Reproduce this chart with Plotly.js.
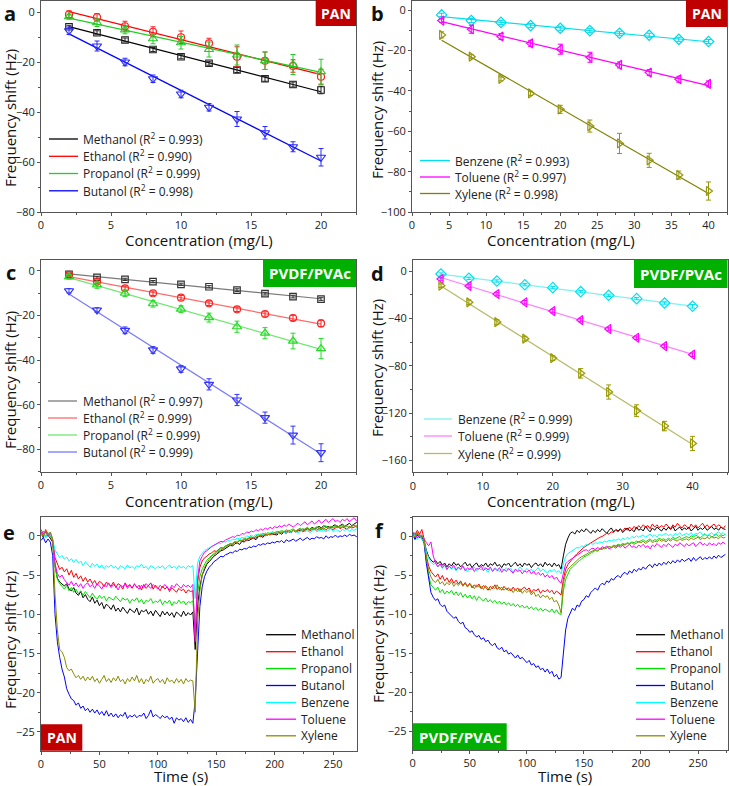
<!DOCTYPE html>
<html><head><meta charset="utf-8">
<script src="https://cdn.plot.ly/plotly-3.0.1.min.js"></script>
<style>html,body{margin:0;padding:0;background:#fff}#chart{width:729px;height:786px}</style>
</head><body><div id="chart"></div>
<script>
const FONT = '"Open Sans", "Noto Sans", sans-serif';

// ---------- concentration series (panels a-d) ----------
const concAlcohol = [2,4,6,8,10,12,14,16,18,20];
const concAromatic = [4,8,12,16,20,24,28,32,36,40];

const alcoholNames = ['Methanol','Ethanol','Propanol','Butanol'];
const aromaticNames = ['Benzene','Toluene','Xylene'];

// panel a (PAN, alcohols)
const a_methanol = [-5.9,-8.3,-11.2,-15.0,-17.9,-20.5,-23.2,-26.7,-29.0,-31.2];
const a_ethanol  = [-1.0,-2.1,-5.7,-7.9,-10.1,-12.5,-17.9,-19.5,-21.6,-25.9];
const a_propanol = [-1.9,-4.3,-7.2,-10.7,-12.3,-15.0,-17.2,-19.5,-21.0,-23.9];
const a_butanol  = [-7.5,-13.6,-20.0,-26.7,-32.8,-38.1,-42.8,-48.3,-53.9,-58.1];
const a_methanol_err = [0.6,0.8,0.8,0.8,0.8,0.8,1.0,1.0,1.0,1.5];
const a_ethanol_err  = [1.5,1.5,2.0,2.0,2.5,2.0,4.0,3.5,2.5,3.0];
const a_propanol_err = [1.0,1.5,1.5,2.0,2.5,3.0,4.0,3.5,4.0,5.0];
const a_butanol_err  = [1.5,2.0,1.5,1.5,1.5,1.5,3.0,2.5,2.0,3.5];
const a_r2 = ['0.993','0.990','0.999','0.998'];

// panel b (PAN, aromatics)
const b_benzene = [-2.3,-5.1,-6.0,-7.6,-8.9,-10.1,-11.4,-12.4,-14.4,-15.5];
const b_toluene = [-5.1,-9.4,-13.0,-16.4,-19.3,-23.3,-27.1,-30.9,-34.2,-36.5];
const b_xylene  = [-12.2,-23.0,-34.0,-41.2,-49.1,-57.4,-66.0,-74.4,-81.7,-89.6];
const b_benzene_err = [0.8,1.0,1.0,1.0,1.0,1.0,1.0,1.0,1.0,1.0];
const b_toluene_err = [1.0,2.0,1.5,1.5,2.5,2.5,1.5,1.5,1.5,1.5];
const b_xylene_err  = [1.5,1.0,1.0,1.0,2.0,3.0,5.0,3.5,2.0,4.5];
const b_r2 = ['0.993','0.997','0.998'];

// panel c (PVDF/PVAc, alcohols)
const c_methanol = [-1.6,-3.0,-3.9,-4.9,-6.1,-7.2,-8.7,-10.3,-11.6,-12.7];
const c_ethanol  = [-1.9,-4.9,-7.9,-10.1,-12.1,-14.6,-17.3,-19.4,-21.2,-23.6];
const c_propanol = [-2.8,-6.4,-10.1,-14.8,-17.2,-21.0,-25.1,-28.0,-31.5,-34.9];
const c_butanol  = [-9.0,-17.6,-26.7,-35.5,-44.0,-50.9,-57.9,-65.8,-73.6,-81.5];
const c_methanol_err = [0.5,0.5,0.5,0.5,0.5,0.5,0.6,0.6,0.6,0.6];
const c_ethanol_err  = [0.8,0.8,1.0,1.0,1.0,1.0,1.0,1.0,1.2,1.5];
const c_propanol_err = [1.0,1.5,1.5,1.5,1.5,2.0,2.5,2.5,3.5,4.5];
const c_butanol_err  = [1.0,1.0,1.5,1.5,1.5,2.5,2.5,2.5,4.0,4.0];
const c_r2 = ['0.997','0.999','0.999','0.999'];

// panel d (PVDF/PVAc, aromatics)
const d_benzene = [-2.3,-5.9,-8.2,-11.3,-13.8,-17.2,-20.3,-23.1,-26.8,-29.6];
const d_toluene = [-6.5,-12.4,-19.2,-26.2,-33.6,-41.2,-48.8,-56.2,-63.2,-70.5];
const d_xylene  = [-12.1,-26.2,-42.9,-57.0,-73.4,-86.3,-102.1,-117.9,-130.9,-145.6];
const d_benzene_err = [1.0,1.0,1.0,1.0,1.0,1.0,1.0,1.0,1.0,1.5];
const d_toluene_err = [1.5,1.5,1.5,1.5,1.5,1.5,1.5,1.5,1.5,1.5];
const d_xylene_err  = [1.5,2.0,2.0,2.0,2.0,4.0,6.0,5.0,4.0,6.0];
const d_r2 = ['0.999','0.999','0.999'];

// ---------- time series (panels e-f) ----------
const timeS = [0,2,4,6,8,10,12,14,16,18, 20,22,24,26,28,30,32,34,36,38, 40,42,44,46,48,50,52,54,56,58,
 60,62,64,66,68,70,72,74,76,78, 80,82,84,86,88,90,92,94,96,98, 100,102,104,106,108,110,112,114,116,118,
 120,122,124,126,128,130,132,134,136,138, 140,142,144,146,148,150,152,154,156,158, 160,162,164,166,168,170,172,174,176,178,
 180,182,184,186,188,190,192,194,196,198, 200,202,204,206,208,210,212,214,216,218, 220,222,224,226,228,230,232,234,236,238,
 240,242,244,246,248,250,252,254,256,258, 260,262,264,266,268,270,272,274];

const seriesNames = ['Methanol','Ethanol','Propanol','Butanol','Benzene','Toluene','Xylene'];

// panel e (PAN)
const e_methanol = [0.3,-0.2,0.6,0.1,-0.3,-0.8,-3.8,-5.4,-5.9,-6.2,
 -6.4,-6.1,-6.8,-7.0,-6.6,-7.3,-7.6,-7.1,-7.9,-7.5, -8.1,-8.4,-7.8,-8.6,-8.2,-8.9,-8.5,-9.3,-8.7,-9.0,
 -9.4,-8.8,-9.6,-9.2,-9.7,-9.1,-9.5,-9.9,-9.3,-9.6, -9.8,-9.2,-10.1,-9.5,-9.7,-9.4,-10.0,-9.6,-10.2,-9.5,
 -9.9,-10.3,-9.6,-10.1,-9.7,-10.2,-9.8,-10.4,-9.7,-10.0, -10.3,-9.6,-10.2,-9.8,-10.1,-9.7,-14.5,-9.0,-6.5,-5.0,
 -4.2,-3.6,-3.3,-2.9,-2.6,-2.4,-2.1,-1.9,-1.8,-1.6, -1.5,-1.2,-1.3,-1.0,-0.9,-1.1,-0.7,-0.8,-0.5,-0.6,
 -0.4,-0.3,-0.5,-0.1,0.0,-0.2,0.2,0.1,0.3,0.2, 0.2,0.1,0.4,0.2,0.5,0.3,0.6,0.4,0.7,0.5,
 0.8,0.6,0.9,0.7,1.0,0.8,1.1,0.9,1.0,1.2, 1.0,1.3,1.1,1.2,1.0,1.3,1.4,1.1,1.3,1.5, 1.2,1.4,1.6,1.3,1.5,1.7,1.4,1.6];
const e_ethanol = [0.5,0.0,0.8,0.2,-0.1,-0.6,-2.8,-3.6,-4.3,-4.0,
 -4.6,-4.2,-5.0,-4.4,-5.3,-4.8,-5.5,-5.1,-5.8,-5.3, -5.9,-5.5,-6.1,-5.7,-6.3,-5.8,-6.0,-6.5,-5.9,-6.2,
 -6.4,-5.9,-6.6,-6.1,-6.3,-6.8,-6.0,-6.5,-6.2,-6.7, -6.1,-6.6,-6.3,-6.9,-6.2,-6.7,-6.4,-6.0,-6.8,-6.3,
 -6.6,-7.0,-6.4,-6.8,-6.5,-7.1,-6.6,-6.9,-7.2,-6.7, -7.0,-6.8,-7.3,-6.9,-7.1,-7.0,-13.0,-6.0,-4.0,-3.2,
 -2.8,-2.6,-2.3,-2.2,-1.9,-2.0,-1.7,-1.5,-1.6,-1.3, -1.2,-1.0,-1.1,-0.8,-0.9,-0.6,-0.7,-0.5,-0.6,-0.3,
 -0.4,-0.2,-0.3,0.0,-0.1,0.1,0.0,0.2,0.1,0.3, 0.2,0.4,0.3,0.5,0.4,0.6,0.5,0.4,0.7,0.5,
 0.6,0.8,0.5,0.7,0.9,0.6,0.8,1.0,0.7,0.9, 0.8,1.0,0.7,1.1,0.9,0.8,1.0,1.2,0.9,1.1, 1.0,0.8,1.2,1.0,1.1,1.3,0.9,1.1];
const e_propanol = [0.2,0.6,-0.1,0.4,0.0,-0.7,-3.9,-5.5,-6.1,-6.4,
 -6.8,-6.3,-7.0,-6.6,-7.2,-6.8,-7.4,-7.0,-7.6,-7.1, -7.5,-7.9,-7.3,-7.8,-8.1,-7.6,-8.0,-7.7,-8.3,-7.8,
 -8.0,-8.2,-7.7,-8.1,-8.4,-7.9,-8.2,-8.0,-8.6,-8.1, -8.3,-7.9,-8.5,-8.1,-8.7,-8.2,-8.4,-8.0,-8.6,-8.3,
 -8.5,-8.1,-8.8,-8.3,-8.6,-8.2,-8.9,-8.4,-8.7,-8.2, -8.6,-8.3,-8.8,-8.4,-8.5,-8.3,-12.0,-7.5,-5.2,-4.2,
 -3.6,-3.1,-2.8,-2.5,-2.3,-2.0,-1.9,-1.6,-1.5,-1.3, -1.1,-1.2,-0.9,-0.7,-0.8,-0.5,-0.6,-0.3,-0.4,-0.2,
 -0.1,-0.3,0.0,0.2,0.1,0.3,0.2,0.4,0.3,0.5, 0.4,0.6,0.5,0.7,0.5,0.8,0.6,0.7,0.9,0.6,
 0.8,1.0,0.7,0.9,1.1,0.8,1.0,0.9,1.2,1.0, 0.9,1.1,1.3,1.0,1.2,1.1,1.3,1.0,1.2,1.4, 1.1,1.3,1.0,1.2,1.4,1.1,1.3,1.2];
const e_butanol = [-0.6,-0.2,-0.9,-0.4,-0.8,-2.5,-10.0,-13.5,-15.5,-17.0,
 -18.0,-19.5,-20.2,-20.8,-21.0,-21.6,-21.3,-22.0,-21.7,-22.3, -22.0,-22.5,-22.1,-22.6,-22.2,-22.8,-22.4,-22.9,-22.3,-23.0,
 -22.6,-23.1,-22.7,-23.2,-22.8,-23.0,-22.5,-23.3,-22.9,-23.1, -22.8,-23.2,-22.9,-23.0,-22.6,-23.3,-22.9,-22.2,-23.1,-22.8,
 -23.0,-23.3,-22.9,-23.2,-23.0,-23.4,-23.1,-23.9,-23.2,-23.5, -23.3,-23.7,-23.2,-23.8,-23.4,-23.9,-21.0,-14.0,-9.0,-6.5,
 -5.2,-4.5,-4.0,-3.7,-3.3,-3.1,-2.9,-2.6,-2.7,-2.4, -2.3,-2.1,-2.2,-1.9,-2.0,-1.7,-1.8,-1.6,-1.7,-1.4,
 -1.5,-1.3,-1.4,-1.1,-1.2,-1.0,-1.1,-0.9,-1.0,-0.8, -0.9,-0.7,-0.8,-0.6,-0.9,-0.5,-0.7,-0.6,-0.4,-0.7,
 -0.5,-0.3,-0.6,-0.4,-0.2,-0.5,-0.3,-0.4,-0.1,-0.3, -0.2,-0.4,0.0,-0.3,-0.1,-0.2,0.1,-0.2,0.0,-0.1, 0.1,-0.1,0.2,0.0,0.1,-0.1,0.2,0.1];
const e_benzene = [0.1,0.4,-0.3,0.2,-0.2,-0.5,-1.8,-2.4,-2.8,-2.5,
 -3.0,-2.7,-3.2,-2.9,-3.4,-3.0,-3.5,-3.2,-3.8,-3.3, -3.6,-4.0,-3.5,-3.9,-3.6,-4.1,-3.7,-4.2,-3.8,-4.0,
 -3.7,-4.1,-3.9,-4.3,-3.8,-4.0,-4.2,-3.7,-4.1,-3.9, -4.2,-3.8,-4.0,-3.6,-4.1,-3.9,-4.3,-3.8,-4.0,-4.2,
 -3.9,-4.1,-3.8,-4.2,-4.0,-3.7,-4.1,-3.9,-4.2,-3.8, -4.1,-3.9,-4.2,-3.8,-4.0,-3.8,-8.0,-3.5,-2.6,-2.2,
 -1.9,-1.7,-1.5,-1.4,-1.2,-1.1,-0.9,-1.0,-0.7,-0.8, -0.6,-0.7,-0.4,-0.5,-0.3,-0.4,-0.2,-0.3,0.0,-0.1,
 0.1,-0.1,0.2,0.0,0.3,0.1,0.4,0.2,0.3,0.5, 0.3,0.5,0.2,0.6,0.4,0.3,0.6,0.4,0.7,0.5,
 0.4,0.6,0.8,0.5,0.7,0.4,0.6,0.8,0.5,0.7, 0.6,0.8,0.5,0.7,0.9,0.6,0.8,0.7,0.5,0.8, 0.7,0.9,0.6,0.8,0.7,0.9,0.6,0.8];
const e_toluene = [0.8,0.2,0.6,-0.1,0.4,-0.5,-3.5,-4.8,-5.3,-5.0,
 -5.6,-5.9,-6.3,-5.8,-6.4,-6.0,-6.5,-6.1,-6.7,-6.2, -6.0,-6.5,-6.2,-6.7,-6.1,-6.4,-6.8,-6.2,-6.5,-6.0,
 -6.6,-6.2,-6.4,-6.9,-6.3,-6.5,-6.1,-6.7,-6.3,-6.6, -6.2,-6.5,-6.8,-6.3,-6.6,-6.1,-6.4,-6.7,-6.2,-6.5,
 -6.8,-6.3,-6.6,-6.2,-6.5,-6.9,-6.3,-6.6,-6.1,-6.4, -6.7,-6.2,-6.5,-6.3,-6.6,-6.2,-13.5,-5.5,-3.2,-2.6,
 -2.1,-1.9,-1.6,-1.4,-1.2,-1.0,-0.9,-0.7,-0.8,-0.5, -0.4,-0.3,-0.1,-0.2,0.1,0.0,0.3,0.2,0.5,0.4,
 0.6,0.5,0.8,0.6,0.9,0.7,1.0,0.8,1.1,0.9, 1.2,1.0,1.3,1.1,1.4,1.2,1.5,1.3,1.1,1.4,
 1.6,1.3,1.5,1.8,1.4,1.6,1.9,1.5,1.7,2.0, 1.6,1.8,2.1,1.7,1.9,2.2,1.8,2.0,1.7,2.1, 1.9,2.2,1.8,2.0,2.3,1.9,2.1,2.0];
const e_xylene = [0.4,-0.1,0.7,0.2,0.5,-0.4,-7.5,-12.0,-14.5,-14.8,
 -15.5,-16.8,-17.2,-17.0,-17.6,-18.1,-17.8,-18.3,-17.9,-18.5, -18.0,-18.4,-17.9,-18.6,-18.2,-18.8,-18.3,-17.8,-18.6,-18.2,
 -18.7,-18.1,-18.5,-17.9,-18.6,-18.3,-18.9,-18.2,-18.6,-18.0, -18.5,-17.8,-18.7,-18.2,-18.9,-18.3,-18.6,-17.9,-18.8,-18.4,
 -18.2,-18.7,-18.3,-18.9,-18.1,-18.6,-18.4,-18.8,-18.2,-18.7, -18.3,-18.9,-18.2,-18.6,-18.4,-18.5,-22.5,-11.0,-7.0,-5.0,
 -4.0,-3.4,-3.0,-2.6,-2.4,-2.1,-1.9,-1.7,-1.5,-1.4, -1.2,-1.0,-1.1,-0.8,-0.9,-0.6,-0.7,-0.4,-0.5,-0.3,
 -0.2,-0.3,0.0,-0.1,0.1,0.0,0.2,0.1,0.3,0.2, 0.4,0.3,0.5,0.4,0.6,0.5,0.7,0.5,0.8,0.6,
 0.7,0.9,0.6,0.8,1.0,0.7,0.9,0.8,1.1,0.9, 1.0,0.8,1.1,0.9,1.2,1.0,1.1,1.3,1.0,1.2, 1.1,1.3,1.0,1.2,1.4,1.1,1.3,1.2];

// panel f (PVDF/PVAc)
const f_methanol = [0.2,-0.3,0.4,0.0,-0.2,-0.6,-1.8,-2.6,-3.0,-3.3,
 -3.1,-3.5,-3.2,-3.7,-3.4,-3.9,-3.5,-3.8,-3.3,-3.7, -3.5,-3.9,-3.6,-3.3,-3.8,-3.5,-4.0,-3.6,-3.4,-3.9,
 -3.6,-3.8,-3.4,-3.9,-3.5,-3.7,-3.3,-3.8,-3.6,-4.0, -3.5,-3.7,-3.4,-3.9,-3.6,-3.3,-3.8,-3.5,-3.9,-3.4,
 -3.7,-3.5,-4.0,-3.6,-3.4,-3.8,-3.5,-3.9,-3.3,-3.7, -3.5,-3.9,-3.4,-3.8,-3.6,-4.2,-2.5,-1.0,-0.2,0.4,
 0.6,0.3,0.8,0.5,0.9,0.6,1.0,0.7,0.4,0.8, 0.5,0.9,0.6,1.0,0.7,0.4,0.8,1.1,0.6,0.9,
 0.7,1.0,0.5,0.8,1.1,0.7,0.9,0.6,1.2,0.8, 1.0,0.7,1.3,0.9,0.6,1.1,0.8,1.2,0.9,0.7,
 1.1,0.8,1.2,0.9,1.3,0.7,1.0,1.2,0.8,1.1, 0.9,1.2,0.7,1.0,1.3,0.8,1.1,0.9,1.2,0.8, 1.0,1.3,0.9,1.1,0.8,1.2,1.0,0.9];
const f_ethanol = [0.6,0.1,0.8,0.3,0.9,-0.3,-2.5,-3.8,-4.5,-4.9,
 -5.2,-4.8,-5.5,-5.0,-5.7,-5.3,-5.9,-5.4,-6.0,-5.6, -6.1,-5.7,-6.3,-5.9,-6.4,-6.0,-6.6,-6.2,-6.5,-6.1,
 -6.7,-6.3,-6.5,-6.9,-6.4,-6.7,-6.2,-6.8,-6.5,-6.9, -6.4,-6.8,-6.6,-7.0,-6.5,-6.9,-6.6,-7.1,-6.7,-6.5,
 -6.9,-6.6,-7.2,-6.8,-7.0,-6.7,-7.3,-6.9,-7.1,-6.8, -7.2,-6.9,-7.4,-7.0,-7.3,-7.5,-5.5,-4.2,-3.6,-3.2,
 -2.9,-2.5,-2.2,-1.9,-1.7,-1.4,-1.2,-1.0,-0.8,-0.6, -0.5,-0.3,-0.1,0.0,0.2,0.4,0.3,0.6,0.5,0.8,
 0.6,0.9,0.7,1.1,0.8,1.2,0.9,1.3,1.0,1.4, 1.1,1.5,1.2,1.4,1.0,1.6,1.2,1.5,1.1,1.4,
 1.2,1.6,1.3,1.0,1.5,1.2,1.7,1.3,1.1,1.5, 1.3,1.0,1.6,1.2,1.5,1.1,1.4,1.7,1.2,1.5, 1.1,1.4,1.6,1.2,1.5,1.3,1.0,1.4];
const f_propanol = [0.4,-0.2,0.5,0.1,-0.3,-0.8,-3.0,-5.0,-6.2,-6.6,
 -6.9,-6.5,-7.2,-6.8,-7.4,-7.0,-7.3,-6.9,-7.5,-7.1, -7.6,-7.2,-7.8,-7.4,-7.9,-7.5,-8.0,-7.6,-8.2,-7.7,
 -8.0,-8.3,-7.9,-8.4,-8.1,-8.5,-8.2,-8.6,-8.3,-8.7, -8.4,-8.8,-8.5,-8.9,-8.6,-9.0,-8.7,-9.1,-8.8,-9.2,
 -8.9,-9.3,-9.0,-9.4,-9.1,-9.5,-9.2,-9.6,-9.3,-9.5, -9.7,-9.3,-9.8,-9.4,-9.9,-10.0,-7.0,-5.5,-4.8,-4.2,
 -3.9,-3.6,-3.3,-3.1,-2.9,-2.6,-2.5,-2.3,-2.1,-2.0, -1.8,-1.9,-1.6,-1.7,-1.4,-1.5,-1.3,-1.4,-1.1,-1.2,
 -1.0,-1.1,-0.9,-1.0,-0.8,-0.9,-0.7,-0.8,-0.6,-0.7, -0.6,-0.4,-0.7,-0.5,-0.3,-0.6,-0.4,-0.5,-0.2,-0.4,
 -0.3,-0.5,-0.2,-0.4,-0.1,-0.3,-0.2,0.0,-0.3,-0.1, 0.0,-0.2,0.1,-0.1,0.2,0.0,-0.2,0.1,0.3,0.0, 0.2,-0.1,0.1,0.3,0.0,0.2,0.1,0.3];
const f_butanol = [0.3,-0.4,0.2,-0.2,0.1,-0.9,-3.5,-5.5,-7.2,-7.8,
 -8.2,-8.0,-8.7,-9.0,-8.8,-9.6,-9.9,-10.1,-10.5,-10.3, -10.9,-11.2,-11.0,-11.7,-11.9,-12.3,-12.1,-12.6,-12.9,-12.7,
 -13.2,-13.0,-13.5,-13.3,-13.8,-14.0,-13.7,-14.3,-14.5,-14.2, -14.8,-14.6,-15.1,-14.9,-15.3,-15.6,-15.2,-15.7,-15.5,-15.9,
 -16.2,-15.9,-16.5,-16.3,-16.8,-16.6,-17.1,-16.9,-17.4,-17.0, -17.6,-17.3,-18.0,-17.7,-18.3,-18.1,-15.0,-12.0,-10.5,-9.8,
 -9.2,-9.5,-8.8,-9.0,-8.3,-8.1,-7.6,-7.8,-7.2,-6.9, -6.6,-6.9,-6.3,-6.0,-6.2,-5.7,-5.9,-5.4,-5.6,-5.2,
 -5.0,-5.3,-4.8,-4.6,-4.9,-4.4,-4.7,-4.2,-4.5,-4.1, -4.3,-3.9,-4.2,-3.8,-3.6,-4.0,-3.5,-3.8,-3.4,-3.7,
 -3.3,-3.6,-3.2,-3.5,-3.1,-3.4,-3.0,-3.3,-2.9,-3.2, -3.0,-2.8,-3.2,-2.7,-3.1,-2.9,-2.6,-3.0,-2.7,-2.9, -2.6,-2.9,-2.5,-2.8,-2.4,-2.7,-2.5,-2.3];
const f_benzene = [-0.2,0.3,-0.4,0.1,-0.3,-0.7,-2.0,-2.8,-3.3,-3.6,
 -3.4,-3.9,-3.6,-4.1,-3.7,-4.3,-3.8,-4.2,-3.9,-4.4, -4.0,-4.3,-3.8,-4.2,-4.5,-4.0,-4.3,-3.9,-4.4,-4.1,
 -4.3,-3.9,-4.2,-4.6,-4.1,-4.4,-4.0,-4.3,-4.5,-4.1, -4.4,-4.0,-4.3,-4.1,-4.6,-4.2,-4.4,-3.9,-4.3,-4.5,
 -4.1,-4.4,-4.2,-4.6,-4.3,-4.0,-4.5,-4.2,-4.4,-4.7, -4.3,-4.5,-4.2,-4.6,-4.4,-4.8,-3.5,-2.6,-2.2,-2.0,
 -1.8,-1.6,-1.4,-1.5,-1.2,-1.3,-1.0,-1.1,-0.9,-1.0, -0.8,-0.9,-0.7,-0.8,-0.6,-0.7,-0.5,-0.6,-0.4,-0.5,
 -0.3,-0.5,-0.2,-0.4,-0.1,-0.3,0.0,-0.2,0.1,-0.1, 0.0,0.2,-0.1,0.1,0.3,0.0,0.2,-0.1,0.3,0.1,
 0.2,0.4,0.1,0.3,0.0,0.4,0.2,0.5,0.1,0.3, 0.4,0.2,0.5,0.1,0.4,0.3,0.6,0.2,0.4,0.1, 0.3,0.5,0.2,0.4,0.6,0.3,0.5,0.2];
const f_toluene = [0.1,0.5,-0.2,0.3,0.0,-0.3,-0.8,-1.2,-0.7,-2.5,
 -3.4,-3.9,-3.5,-4.0,-3.6,-4.2,-3.8,-4.1,-3.7,-4.3, -3.9,-4.2,-3.8,-4.4,-4.0,-4.3,-3.9,-4.5,-4.1,-4.2,
 -3.8,-4.4,-4.0,-4.3,-3.9,-4.5,-4.1,-4.4,-4.0,-4.6, -4.2,-4.5,-4.1,-4.4,-4.7,-4.2,-4.5,-4.3,-4.8,-4.4,
 -4.6,-4.3,-4.8,-4.5,-4.9,-4.6,-5.0,-4.7,-5.2,-4.9, -5.3,-5.0,-5.5,-5.2,-5.7,-6.0,-4.5,-3.5,-3.2,-3.0,
 -2.8,-2.6,-2.3,-2.1,-2.0,-1.8,-1.7,-1.9,-1.6,-1.5, -1.7,-1.4,-1.6,-1.3,-1.5,-1.2,-1.6,-1.4,-1.3,-1.5,
 -1.2,-1.4,-1.1,-1.5,-1.3,-1.0,-1.4,-1.2,-1.5,-1.1, -1.3,-1.0,-1.4,-1.2,-1.6,-1.1,-1.3,-0.9,-1.2,-1.4,
 -1.0,-1.3,-0.9,-1.2,-1.4,-1.0,-1.2,-0.8,-1.1,-1.3, -0.9,-1.2,-1.0,-0.8,-1.3,-1.0,-0.7,-1.1,-0.9,-1.2, -0.8,-1.1,-0.9,-1.2,-0.8,-1.0,-0.7,-1.0];
const f_xylene = [0.3,-0.1,0.5,0.0,0.2,-0.5,-2.8,-4.3,-5.2,-5.7,
 -5.9,-5.5,-6.1,-5.8,-6.3,-5.9,-6.2,-5.8,-6.4,-6.0, -6.3,-5.9,-6.4,-6.0,-6.5,-6.1,-6.3,-6.7,-6.2,-6.5,
 -6.4,-6.8,-6.3,-6.6,-6.9,-6.4,-6.7,-6.2,-6.8,-6.5, -6.9,-6.6,-7.0,-6.7,-7.2,-6.8,-7.1,-6.7,-7.3,-6.9,
 -7.2,-6.9,-7.5,-7.1,-7.7,-7.4,-7.9,-7.5,-7.8,-7.6, -8.1,-7.8,-8.4,-8.2,-8.8,-9.8,-6.0,-4.8,-4.2,-3.9,
 -3.6,-3.3,-3.0,-2.8,-2.6,-2.5,-2.3,-2.1,-2.0,-1.9, -1.7,-1.8,-1.6,-1.5,-1.6,-1.4,-1.3,-1.4,-1.2,-1.3,
 -1.1,-1.2,-1.0,-1.1,-0.9,-1.0,-0.8,-1.0,-0.9,-0.7, -0.8,-0.6,-0.9,-0.7,-0.5,-0.8,-0.6,-0.7,-0.4,-0.6,
 -0.5,-0.7,-0.4,-0.6,-0.3,-0.5,-0.6,-0.3,-0.5,-0.4, -0.3,-0.5,-0.2,-0.4,-0.3,-0.1,-0.4,-0.2,-0.3,-0.1, -0.3,0.0,-0.2,-0.1,-0.3,0.0,-0.2,-0.1];

// ---------- layout helpers ----------
const W = 729, H = 786;
const px = v => v / W;
const py = v => 1 - v / H;
const AX = '#555';

function xAxis(x0, x1, anchor, range, dtick, minor) {
  return {domain:[px(x0), px(x1)], anchor, range, dtick, tick0:0,
    showline:true, mirror:true, linecolor:AX, linewidth:1,
    ticks:'outside', ticklen:3, tickwidth:1, tickcolor:AX,
    minor:{ticks:'outside', ticklen:2, dtick:minor, tickcolor:AX, showgrid:false},
    showgrid:false, zeroline:false, fixedrange:true,
    tickfont:{family:FONT, size:11, color:'#222'}};
}
function yAxis(y0, y1, anchor, range, dtick, minor) {
  return {domain:[py(y1), py(y0)], anchor, range, dtick, tick0:0,
    showline:true, mirror:true, linecolor:AX, linewidth:1,
    ticks:'outside', ticklen:3, tickwidth:1, tickcolor:AX,
    minor:{ticks:'outside', ticklen:2, dtick:minor, tickcolor:AX, showgrid:false},
    showgrid:false, zeroline:false, fixedrange:true,
    tickfont:{family:FONT, size:11, color:'#222'}};
}

function fitLine(x, y) {
  const n = x.length; let sx=0, sy=0, sxx=0, sxy=0;
  for (let i=0;i<n;i++){ sx+=x[i]; sy+=y[i]; sxx+=x[i]*x[i]; sxy+=x[i]*y[i]; }
  const m = (n*sxy - sx*sy)/(n*sxx - sx*sx); const b = (sy - m*sx)/n;
  return {x:[x[0], x[n-1]], y:[m*x[0]+b, m*x[n-1]+b]};
}

const traces = [];
const shapes = [];
const annotations = [];

function addLegend(items, lx0, lx1, tx, rows) {
  items.forEach((it, i) => {
    shapes.push({type:'line', xref:'paper', yref:'paper', x0:px(lx0), x1:px(lx1), y0:py(rows[i]), y1:py(rows[i]),
      line:{color:it.color, width:1.3}});
    annotations.push({xref:'paper', yref:'paper', x:px(tx), y:py(rows[i]), xanchor:'left', yanchor:'middle',
      text:it.text, showarrow:false, borderpad:0, font:{family:FONT, size:12, color:'#222'}});
  });
}

function scatterPanel(xa, ya, x, series) {
  series.forEach(s => {
    const f = fitLine(x, s.y);
    traces.push({type:'scatter', mode:'lines', x:f.x, y:f.y, xaxis:xa, yaxis:ya,
      line:{color:s.line, width:1.2}, showlegend:false, hoverinfo:'skip'});
  });
  series.forEach(s => {
    traces.push({type:'scatter', mode:'markers', x:x, y:s.y, xaxis:xa, yaxis:ya, name:s.name,
      marker:{symbol:s.symbol, size:s.size||7, color:s.marker, line:{color:s.marker, width:1.2}},
      error_y:{type:'data', array:s.err, visible:true, color:s.marker, thickness:1, width:2.5},
      showlegend:false, cliponaxis:false});
  });
}

// panel a
const seriesA = [
  {name:alcoholNames[0], y:a_methanol, err:a_methanol_err, r2:a_r2[0], line:'#000000', marker:'#222222', symbol:'square-open', size:6.5},
  {name:alcoholNames[1], y:a_ethanol, err:a_ethanol_err, r2:a_r2[1], line:'#ff0000', marker:'#ff2020', symbol:'circle-open'},
  {name:alcoholNames[2], y:a_propanol, err:a_propanol_err, r2:a_r2[2], line:'#22cc22', marker:'#22cc22', symbol:'triangle-up-open', size:8},
  {name:alcoholNames[3], y:a_butanol, err:a_butanol_err, r2:a_r2[3], line:'#0000ff', marker:'#2a2aff', symbol:'triangle-down-open', size:8}];
scatterPanel('x','y', concAlcohol, seriesA);
// panel b
const seriesB = [
  {name:aromaticNames[0], y:b_benzene, err:b_benzene_err, r2:b_r2[0], line:'#00e0f0', marker:'#00d8e8', symbol:'diamond-open', size:8},
  {name:aromaticNames[1], y:b_toluene, err:b_toluene_err, r2:b_r2[1], line:'#ff00ff', marker:'#ff00ff', symbol:'triangle-left-open', size:8},
  {name:aromaticNames[2], y:b_xylene, err:b_xylene_err, r2:b_r2[2], line:'#808000', marker:'#959510', symbol:'triangle-right-open', size:8}];
scatterPanel('x2','y2', concAromatic, seriesB);
// panel c
const seriesC = [
  {name:alcoholNames[0], y:c_methanol, err:c_methanol_err, r2:c_r2[0], line:'#7a7a7a', marker:'#333333', symbol:'square-open', size:6.5},
  {name:alcoholNames[1], y:c_ethanol, err:c_ethanol_err, r2:c_r2[1], line:'#ff6a6a', marker:'#ff2020', symbol:'circle-open'},
  {name:alcoholNames[2], y:c_propanol, err:c_propanol_err, r2:c_r2[2], line:'#70e870', marker:'#22dd22', symbol:'triangle-up-open', size:8},
  {name:alcoholNames[3], y:c_butanol, err:c_butanol_err, r2:c_r2[3], line:'#7878ff', marker:'#3333ff', symbol:'triangle-down-open', size:8}];
scatterPanel('x3','y3', concAlcohol, seriesC);
// panel d
const seriesD = [
  {name:aromaticNames[0], y:d_benzene, err:d_benzene_err, r2:d_r2[0], line:'#80f0f0', marker:'#00e0f0', symbol:'diamond-open', size:8},
  {name:aromaticNames[1], y:d_toluene, err:d_toluene_err, r2:d_r2[1], line:'#ff80ff', marker:'#ff00ff', symbol:'triangle-left-open', size:8},
  {name:aromaticNames[2], y:d_xylene, err:d_xylene_err, r2:d_r2[2], line:'#b8b868', marker:'#999900', symbol:'triangle-right-open', size:8}];
scatterPanel('x4','y4', concAromatic, seriesD);

const leg = arr => arr.map(s => ({color:s.line, text:s.name + ' (R<sup>2</sup> = ' + s.r2 + ')'}));
addLegend(leg(seriesA), 49, 78, 82, [139, 156.3, 173.5, 190.8]);
addLegend(leg(seriesB), 420, 450, 454, [160.5, 177, 193.5]);
addLegend(leg(seriesC), 48, 77, 81.5, [401, 418, 435, 452]);
addLegend(leg(seriesD), 424, 452, 456.5, [419, 436, 453.5]);

// time panels
const timeColors = ['#000000','#ff0000','#00e000','#0000ff','#00ffff','#ff00ff','#8b8b00'];
const eSeries = [e_methanol, e_ethanol, e_propanol, e_butanol, e_benzene, e_toluene, e_xylene];
const fSeries = [f_methanol, f_ethanol, f_propanol, f_butanol, f_benzene, f_toluene, f_xylene];
eSeries.forEach((y,i) => traces.push({type:'scatter', mode:'lines', x:timeS, y, xaxis:'x5', yaxis:'y5', name:seriesNames[i],
  line:{color:timeColors[i], width:1}, showlegend:false}));
fSeries.forEach((y,i) => traces.push({type:'scatter', mode:'lines', x:timeS, y, xaxis:'x6', yaxis:'y6', name:seriesNames[i],
  line:{color:timeColors[i], width:1}, showlegend:false}));
const tRows = [634.7, 651.7, 668.5, 685.5, 702.5, 719.2, 735.8];
addLegend(seriesNames.map((n,i)=>({color:timeColors[i], text:n})), 266, 296, 300, tRows);
addLegend(seriesNames.map((n,i)=>({color:timeColors[i], text:n})), 636, 665, 669, tRows);

// panel labels and material boxes
const RED = '#c00000', GREEN = '#00b000';
function box(x0, x1, y0, y1, color, text, size) {
  shapes.push({type:'rect', xref:'paper', yref:'paper', x0:px(x0), x1:px(x1), y0:py(y1), y1:py(y0),
    fillcolor:color, line:{width:0}, layer:'above'});
  annotations.push({xref:'paper', yref:'paper', x:px((x0+x1)/2), y:py((y0+y1)/2), xanchor:'center', yanchor:'middle',
    text:'<b>'+text+'</b>', showarrow:false, borderpad:0, font:{family:FONT, size:size, color:'#ffffff'}});
}
box(315.7, 356, 0, 26, RED, 'PAN', 14);
box(686, 727, 0, 27, RED, 'PAN', 14);
box(263, 356, 259.5, 287, GREEN, 'PVDF/PVAc', 15);
box(634, 727.5, 259.5, 288, GREEN, 'PVDF/PVAc', 15);
box(41, 82.3, 724.3, 750.7, RED, 'PAN', 14);
box(412.7, 506.7, 723.3, 750, GREEN, 'PVDF/PVAc', 15);

function letter(t, x, y) {
  annotations.push({xref:'paper', yref:'paper', x:px(x), y:py(y), xanchor:'center', yanchor:'middle',
    text:'<b>'+t+'</b>', showarrow:false, borderpad:0, font:{family:FONT, size:20, color:'#111'}});
}
letter('a', 10, 14); letter('b', 377, 14); letter('c', 11, 272); letter('d', 377, 274); letter('e', 9, 532); letter('f', 379, 530);

function ytitle(text, x, y) {
  annotations.push({xref:'paper', yref:'paper', x:px(x), y:py(y), xanchor:'center', yanchor:'middle', textangle:-90,
    text, showarrow:false, borderpad:0, font:{family:FONT, size:15, color:'#111'}});
}
function xtitle(text, x, y) {
  annotations.push({xref:'paper', yref:'paper', x:px(x), y:py(y), xanchor:'center', yanchor:'middle',
    text, showarrow:false, borderpad:0, font:{family:FONT, size:15, color:'#111'}});
}
const yT = 'Frequency shift (Hz)', xC = 'Concentration (mg/L)', xT = 'Time (s)';
ytitle(yT, 10, 118); ytitle(yT, 377, 110); ytitle(yT, 10, 380); ytitle(yT, 377, 368); ytitle(yT, 10, 640); ytitle(yT, 378, 634);
xtitle(xC, 198.5, 240.5); xtitle(xC, 561, 240.5); xtitle(xC, 198.5, 501); xtitle(xC, 561, 501); xtitle(xT, 181, 775.5); xtitle(xT, 565, 775.5);

const layout = {
  width:W, height:H, margin:{l:0, r:0, t:0, b:0}, paper_bgcolor:'#fff', plot_bgcolor:'#fff',
  showlegend:false, font:{family:FONT, color:'#222'},
  xaxis: xAxis(41, 356, 'y', [0, 22.5], 5, 2.5),
  yaxis: yAxis(1, 212, 'x', [-80, 4.4], 20, 10),
  xaxis2: xAxis(412, 727, 'y2', [0, 42.5], 5, 2.5),
  yaxis2: yAxis(1, 212, 'x2', [-100, 4.6], 20, 10),
  xaxis3: xAxis(41, 356, 'y3', [0, 22.5], 5, 2.5),
  yaxis3: yAxis(259.5, 471.7, 'x3', [-90, 5], 20, 10),
  xaxis4: xAxis(413, 727.5, 'y4', [0, 45], 10, 5),
  yaxis4: yAxis(259.5, 472.3, 'x4', [-170, 10], 40, 20),
  xaxis5: xAxis(41, 357, 'y5', [0, 270.5], 50, 25),
  yaxis5: yAxis(517, 750.7, 'x5', [-27.4, 2.4], 5, 2.5),
  xaxis6: xAxis(412.7, 727.7, 'y6', [0, 276], 50, 25),
  yaxis6: yAxis(517, 750, 'x6', [-27.4, 2.5], 5, 2.5),
  shapes, annotations
};
Plotly.newPlot('chart', traces, layout, {staticPlot:true, displayModeBar:false});
</script></body></html>
